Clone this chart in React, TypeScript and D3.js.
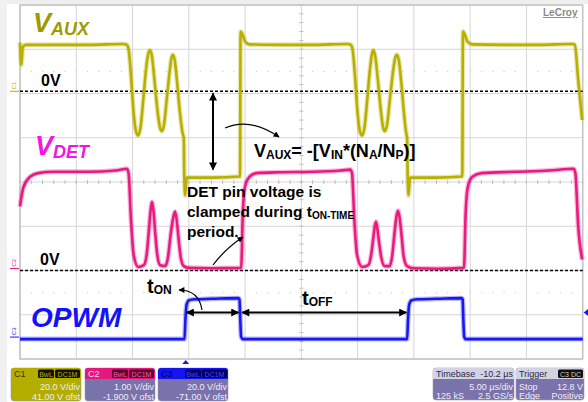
import React from 'react';
import * as d3 from 'd3';

// ---------- data (time in µs, values in volts) ----------
const timeDomain: [number, number] = [0, 50]; // 5 µs/div, 10 divisions
const divDomain: [number, number] = [-4, 4];

// C1 : V_AUX  (20 V/div, offset 41 V)
const c1VoltsPerDiv = 20;
const c1OffsetDiv = 2.05;
const vauxWave: [number, number][] = [
  [0.0, 22], [0.12, 12], [0.25, 20], [0.5, 21], [3, 21], [6, 21], [9.2, 21.4], [9.5, 21],
  [9.65, 19], [9.85, 8], [10.1, -10], [10.3, -18], [10.5, -20], [10.72, -16], [10.95, -4], [11.2, 10],
  [11.4, 17], [11.55, 18.5], [11.72, 16], [11.95, 5], [12.2, -8], [12.42, -16], [12.6, -18], [12.8, -15],
  [13.05, -3], [13.3, 9], [13.48, 15.5], [13.6, 16.5], [13.75, 14], [13.98, 3], [14.22, -10], [14.45, -19],
  [14.55, -21], [14.6, -39], [14.68, -47], [14.8, -39], [17, -39], [19.55, -38.5],
  [19.6, 27], [19.75, 26], [20.0, 22.5], [20.4, 21.2], [23, 21], [26, 21], [29.1, 21.4], [29.4, 21],
  [29.55, 19], [29.75, 8], [30.0, -10], [30.2, -18], [30.4, -20], [30.62, -16], [30.85, -4], [31.1, 10],
  [31.28, 17], [31.4, 18.5], [31.56, 16], [31.8, 5], [32.05, -8], [32.25, -16], [32.4, -18], [32.62, -15],
  [32.88, -3], [33.15, 9], [33.36, 15.5], [33.5, 16.5], [33.66, 14], [33.9, 3], [34.12, -10], [34.32, -19],
  [34.4, -21], [34.45, -39], [34.53, -47], [34.65, -39], [37, -39], [39.3, -38.5],
  [39.36, 27], [39.5, 26], [39.75, 22.5], [40.2, 21.2], [43, 21], [46, 21], [49.1, 21.4], [49.3, 21],
  [49.6, 5], [49.95, -13],
];

// C2 : V_DET  (1 V/div, offset -1.9 V)
const c2VoltsPerDiv = 1;
const c2OffsetDiv = -2.0;
const vdetWave: [number, number][] = [
  [0, 1.45], [0.3, 1.88], [0.9, 2.12], [1.6, 2.2], [3, 2.23], [6, 2.23], [8.5, 2.26], [9.5, 2.3],
  [9.65, 2.2], [9.85, 1.2], [10.1, 0.35], [10.5, 0.08], [11.0, 0.12], [11.25, 0.35], [11.45, 0.9],
  [11.6, 1.35], [11.73, 1.55], [11.86, 1.35], [12.0, 0.9], [12.2, 0.35], [12.45, 0.12],
  [12.9, 0.1], [13.15, 0.3], [13.38, 0.8], [13.62, 1.2], [13.77, 1.33], [13.92, 1.15], [14.08, 0.75],
  [14.28, 0.3], [14.55, 0.1], [15, 0.06], [17, 0.05], [19.65, 0.06],
  [19.8, 1.3], [20.0, 1.9], [20.4, 2.12], [21, 2.2], [23, 2.22], [26, 2.23], [28.5, 2.26], [29.35, 2.28],
  [29.5, 2.2], [29.7, 1.2], [29.95, 0.35], [30.4, 0.08], [30.95, 0.12], [31.2, 0.35], [31.4, 0.75],
  [31.52, 1.0], [31.63, 1.1], [31.75, 0.95], [31.9, 0.65], [32.1, 0.3], [32.4, 0.1],
  [32.85, 0.1], [33.08, 0.35], [33.28, 0.85], [33.45, 1.22], [33.59, 1.35], [33.73, 1.2], [33.9, 0.8],
  [34.1, 0.3], [34.4, 0.1], [35, 0.05], [37, 0.04], [39.45, 0.06],
  [39.6, 1.3], [39.8, 1.9], [40.2, 2.12], [41, 2.2], [44, 2.23], [47, 2.26], [49.2, 2.3],
  [49.35, 2.2], [49.6, 1.0], [49.95, 0.25],
];

// C3 : OPWM  (20 V/div, offset -71 V)
const c3VoltsPerDiv = 20;
const c3OffsetDiv = -3.55;
const opwmWave: [number, number][] = [
  [0, 0], [14.62, 0], [14.7, 9], [14.8, 15.5], [15.0, 17.5], [15.5, 18], [17, 18.2], [19.4, 18.5],
  [19.5, 18], [19.58, 8], [19.65, 1], [19.8, 0], [34.4, 0], [34.48, 9], [34.58, 15.5], [34.78, 17.5],
  [35.3, 18], [37, 18.2], [39.25, 18.5], [39.33, 18], [39.4, 8], [39.47, 1], [39.6, 0], [50, 0],
];

// annotation times (µs)
const tOnStart = 14.72;
const tOnEnd = 19.5;
const tOffStart = 19.65;
const tOffEnd = 34.42;

const channelBoxes = [
  { name: 'C1', vdiv: '20.0 V/div', ofst: '41.00 V ofst' },
  { name: 'C2', vdiv: '1.00 V/div', ofst: '-1.900 V ofst' },
  { name: 'C3', vdiv: '20.0 V/div', ofst: '-71.00 V ofst' },
];

// ---------- styles ----------
const YELLOW = '#b8b000';
const PINK = '#ea1a80';
const BLUE = '#1818f4';
const BOXBODY = '#7a72aa';
const FONT = '"Liberation Sans", Arial, sans-serif';

const W = 588;
const H = 402;
const plotLeft = 20;
const plotRight = 582.7;
const plotTop = 5;
const plotBottom = 359;

const x = d3.scaleLinear().domain(timeDomain).range([plotLeft, plotRight]);
const y = d3.scaleLinear().domain(divDomain).range([plotBottom, plotTop]);

function makePath(data: [number, number][], vdiv: number, off: number) {
  return d3
    .line<[number, number]>()
    .x((d) => x(d[0]))
    .y((d) => y(d[1] / vdiv + off))
    .curve(d3.curveMonotoneX)(data) as string;
}

function Trace({ d, color }: { d: string; color: string }) {
  return (
    <g>
      <path d={d} fill="none" stroke={color} strokeWidth={5} strokeOpacity={0.3} strokeLinejoin="round" />
      <path d={d} fill="none" stroke={color} strokeWidth={2.6} strokeLinejoin="round" />
    </g>
  );
}

export default function App() {
  const xTicks = d3.range(0, 51, 5);
  const yTicks = d3.range(-4, 5, 1);
  const minorX = d3.range(0, 50.01, 1);
  const minorY = d3.range(-4, 4.01, 0.2);

  const c1Zero = y(c1OffsetDiv);
  const c2Zero = y(c2OffsetDiv);
  const c3Zero = y(c3OffsetDiv);
  const c1Low = y(-39 / c1VoltsPerDiv + c1OffsetDiv);
  const arrowY = y(-2.95);

  const boxX = [11, 85, 158];
  const headerFill = ['#b3ad00', '#e4197e', '#1414f0'];
  const headerText = ['#3a3800', '#ffd0e8', '#000050'];
  const tagFill = ['#111', '#5a0630', '#000060'];
  const tagText = ['#b3ad00', '#ff5aa8', '#4a4aff'];

  return (
    <svg width={W} height={H} style={{ position: 'absolute', left: 0, top: 0 }} fontFamily={FONT}>
      <defs>
        <marker id="ah" viewBox="0 0 10 10" refX={9} refY={5} markerWidth={9} markerHeight={8}
          orient="auto-start-reverse" markerUnits="userSpaceOnUse">
          <path d="M0,0 L10,5 L0,10 z" fill="#000" />
        </marker>
        <marker id="ahs" viewBox="0 0 10 10" refX={9} refY={5} markerWidth={7} markerHeight={6}
          orient="auto-start-reverse" markerUnits="userSpaceOnUse">
          <path d="M0,0 L10,5 L0,10 z" fill="#000" />
        </marker>
      </defs>
      <rect x={0} y={0} width={W} height={H} fill="#fff" />
      <rect x={0} y={0} width={W} height={4} fill="#efefef" />
      <rect x={0} y={0} width={7} height={H} fill="#f1f1f1" />

      {/* grid */}
      <g stroke="#d6d6d6" strokeWidth={1}>
        {xTicks.map((t) => (
          <line key={'gx' + t} x1={x(t)} x2={x(t)} y1={plotTop} y2={plotBottom} />
        ))}
        {yTicks.map((t) => (
          <line key={'gy' + t} x1={plotLeft} x2={plotRight} y1={y(t)} y2={y(t)} />
        ))}
      </g>
      <rect x={plotLeft} y={plotTop} width={plotRight - plotLeft} height={plotBottom - plotTop}
        fill="none" stroke="#c4c4c4" strokeWidth={1.5} />
      {/* center ticks */}
      <g stroke="#bdbdbd" strokeWidth={1}>
        {minorX.map((t) => (
          <line key={'mx' + t} x1={x(t)} x2={x(t)} y1={y(0) - 2} y2={y(0) + 2} />
        ))}
        {minorY.map((t) => (
          <line key={'my' + t} x1={x(25) - 2} x2={x(25) + 2} y1={y(t)} y2={y(t)} />
        ))}
      </g>
      <g fill="#cfcfcf">
        {[2.5, -2.5].map((r) =>
          minorX.map((t) => <rect key={'d' + r + t} x={x(t) - 0.5} y={y(r) - 0.5} width={1.2} height={1.2} />)
        )}
      </g>

      {/* zero-volt reference lines */}
      <g stroke="#000" strokeWidth={1.4} strokeDasharray="3,2">
        <line x1={plotLeft} x2={plotRight} y1={c1Zero} y2={c1Zero} />
        <line x1={plotLeft} x2={plotRight} y1={c2Zero} y2={c2Zero} />
      </g>

      {/* traces */}
      <Trace d={makePath(vauxWave, c1VoltsPerDiv, c1OffsetDiv)} color={YELLOW} />
      <Trace d={makePath(vdetWave, c2VoltsPerDiv, c2OffsetDiv)} color={PINK} />
      <Trace d={makePath(opwmWave, c3VoltsPerDiv, c3OffsetDiv)} color={BLUE} />

      {/* channel markers */}
      {[
        { yy: c1Zero, c: YELLOW, t: 'C1' },
        { yy: c2Zero - 2, c: PINK, t: 'C2' },
        { yy: c3Zero - 2, c: BLUE, t: 'C3' },
      ].map((m) => (
        <g key={m.t}>
          <line x1={10} x2={19} y1={m.yy} y2={m.yy} stroke={m.c} strokeWidth={1} />
          <text x={0} y={0} fontSize={6} fill={m.c} transform={`translate(16,${m.yy - 2}) rotate(-90)`}>{m.t}</text>
        </g>
      ))}

      {/* trigger markers */}
      <path d={`M${x(tOnStart) - 3.5},${plotBottom + 5} L${x(tOnStart)},${plotBottom + 1} L${x(tOnStart) + 3.5},${plotBottom + 5} z`} fill={BLUE} />
      <path d={`M${plotRight + 6},${arrowY - 4} L${plotRight + 1},${arrowY} L${plotRight + 6},${arrowY + 4} z`} fill={BLUE} />

      {/* LeCroy */}
      <text x={543} y={16} fontSize={10} fontWeight="bold" fill="#8a8a8a" textDecoration="underline">LeCroy</text>

      {/* labels */}
      <text x={33} y={32} fontSize={27} fontWeight="bold" fontStyle="italic" fill="#9e9b00">
        V<tspan fontSize={18} dy={3}>AUX</tspan>
      </text>
      <text x={35} y={155} fontSize={27} fontWeight="bold" fontStyle="italic" fill="#f514e0">
        V<tspan fontSize={18} dy={3}>DET</tspan>
      </text>
      <text x={31} y={327} fontSize={28} fontWeight="bold" fontStyle="italic" fill="#1212ff">OPWM</text>
      <text x={41} y={86} fontSize={16} fontWeight="bold" fill="#000">0V</text>
      <text x={40} y={265} fontSize={16} fontWeight="bold" fill="#000">0V</text>

      <text x={254} y={157} fontSize={18} fontWeight="bold" fill="#000">
        V<tspan fontSize={12} dy={2}>AUX</tspan>
        <tspan dy={-2}>= -[V</tspan>
        <tspan fontSize={12} dy={2}>IN</tspan>
        <tspan dy={-2}>*(N</tspan>
        <tspan fontSize={12} dy={2}>A</tspan>
        <tspan dy={-2}>/N</tspan>
        <tspan fontSize={12} dy={2}>P</tspan>
        <tspan dy={-2}>)]</tspan>
      </text>

      <g fontSize={15.5} fontWeight="bold" fill="#000">
        <text x={187} y={197}>DET pin voltage is</text>
        <text x={187} y={217}>
          clamped during t<tspan fontSize={10} dy={2}>ON-TIME</tspan>
        </text>
        <text x={187} y={237}>period.</text>
      </g>

      <text x={147} y={293} fontSize={20} fontWeight="bold" fill="#000">
        t<tspan fontSize={12} dy={1}>ON</tspan>
      </text>
      <text x={302} y={305} fontSize={20} fontWeight="bold" fill="#000">
        t<tspan fontSize={12} dy={1}>OFF</tspan>
      </text>

      {/* arrows */}
      <line x1={213} x2={213} y1={c1Zero + 2} y2={c1Low - 8} stroke="#000" strokeWidth={2}
        markerStart="url(#ah)" markerEnd="url(#ah)" />
      <path d="M225,128 Q250,117 279,137" fill="none" stroke="#000" strokeWidth={1.2} markerEnd="url(#ahs)" />
      <path d="M213,265 Q226,248 243,237" fill="none" stroke="#000" strokeWidth={1.2} markerEnd="url(#ahs)" />
      <path d="M202,310 Q199,290 179,290" fill="none" stroke="#000" strokeWidth={1.2} markerEnd="url(#ahs)" />
      <line x1={x(tOnStart) + 1} x2={x(tOnEnd) - 1} y1={arrowY} y2={arrowY} stroke="#000" strokeWidth={2}
        markerStart="url(#ah)" markerEnd="url(#ah)" />
      <line x1={x(tOffStart) + 1} x2={x(tOffEnd) - 1} y1={arrowY} y2={arrowY} stroke="#000" strokeWidth={2}
        markerStart="url(#ah)" markerEnd="url(#ah)" />

      {/* channel info boxes */}
      {channelBoxes.map((b, i) => {
        const bx = boxX[i];
        const bw = 70;
        return (
          <g key={b.name} fontSize={9}>
            <rect x={bx} y={368} width={bw} height={33} rx={3} fill={i === 0 ? '#b3ad00' : BOXBODY} stroke="#9a9ab8" strokeWidth={0.6} />
            <path d={`M${bx},379 L${bx},371 Q${bx},368 ${bx + 3},368 L${bx + bw - 3},368 Q${bx + bw},368 ${bx + bw},371 L${bx + bw},379 z`} fill={headerFill[i]} />
            <text x={bx + 3} y={377} fill={headerText[i]}>{b.name}</text>
            <rect x={bx + 27} y={369.5} width={16} height={8.5} rx={1.5} fill={tagFill[i]} />
            <text x={bx + 35} y={376.5} fontSize={7} textAnchor="middle" fill={tagText[i]}>BwL</text>
            <rect x={bx + 44} y={369.5} width={25} height={8.5} rx={1.5} fill={tagFill[i]} />
            <text x={bx + 56.5} y={376.5} fontSize={7} textAnchor="middle" fill={tagText[i]}>DC1M</text>
            <text x={bx + bw - 1} y={390} textAnchor="end" fill="#eeeef8">{b.vdiv}</text>
            <text x={bx + bw - 1} y={399.5} textAnchor="end" fill="#eeeef8">{b.ofst}</text>
          </g>
        );
      })}

      {/* timebase */}
      <g fontSize={9}>
        <rect x={433} y={368} width={81} height={32} rx={3} fill={BOXBODY} stroke="#9a9ab8" strokeWidth={0.6} />
        <path d="M433,379 L433,371 Q433,368 436,368 L511,368 Q514,368 514,371 L514,379 z" fill="#d2d2e2" />
        <text x={436} y={377} fill="#2a2a4a">Timebase</text>
        <text x={513} y={377} textAnchor="end" fill="#2a2a4a">-10.2 µs</text>
        <text x={513} y={390} textAnchor="end" fill="#eeeef8">5.00 µs/div</text>
        <text x={436} y={399} fill="#eeeef8">125 kS</text>
        <text x={513} y={399} textAnchor="end" fill="#eeeef8">2.5 GS/s</text>

        <rect x={516} y={368} width={68} height={32} rx={3} fill={BOXBODY} stroke="#9a9ab8" strokeWidth={0.6} />
        <path d="M516,379 L516,371 Q516,368 519,368 L581,368 Q584,368 584,371 L584,379 z" fill="#d2d2e2" />
        <text x={519} y={377} fill="#2a2a4a">Trigger</text>
        <rect x={558} y={369.5} width={25} height={8.5} rx={1.5} fill="#111" />
        <text x={570.5} y={376.5} fontSize={7} textAnchor="middle" fill="#ccc">C3 DC</text>
        <text x={519} y={390} fill="#eeeef8">Stop</text>
        <text x={583} y={390} textAnchor="end" fill="#eeeef8">12.8 V</text>
        <text x={519} y={399} fill="#eeeef8">Edge</text>
        <text x={583} y={399} textAnchor="end" fill="#eeeef8">Positive</text>
      </g>
    </svg>
  );
}
